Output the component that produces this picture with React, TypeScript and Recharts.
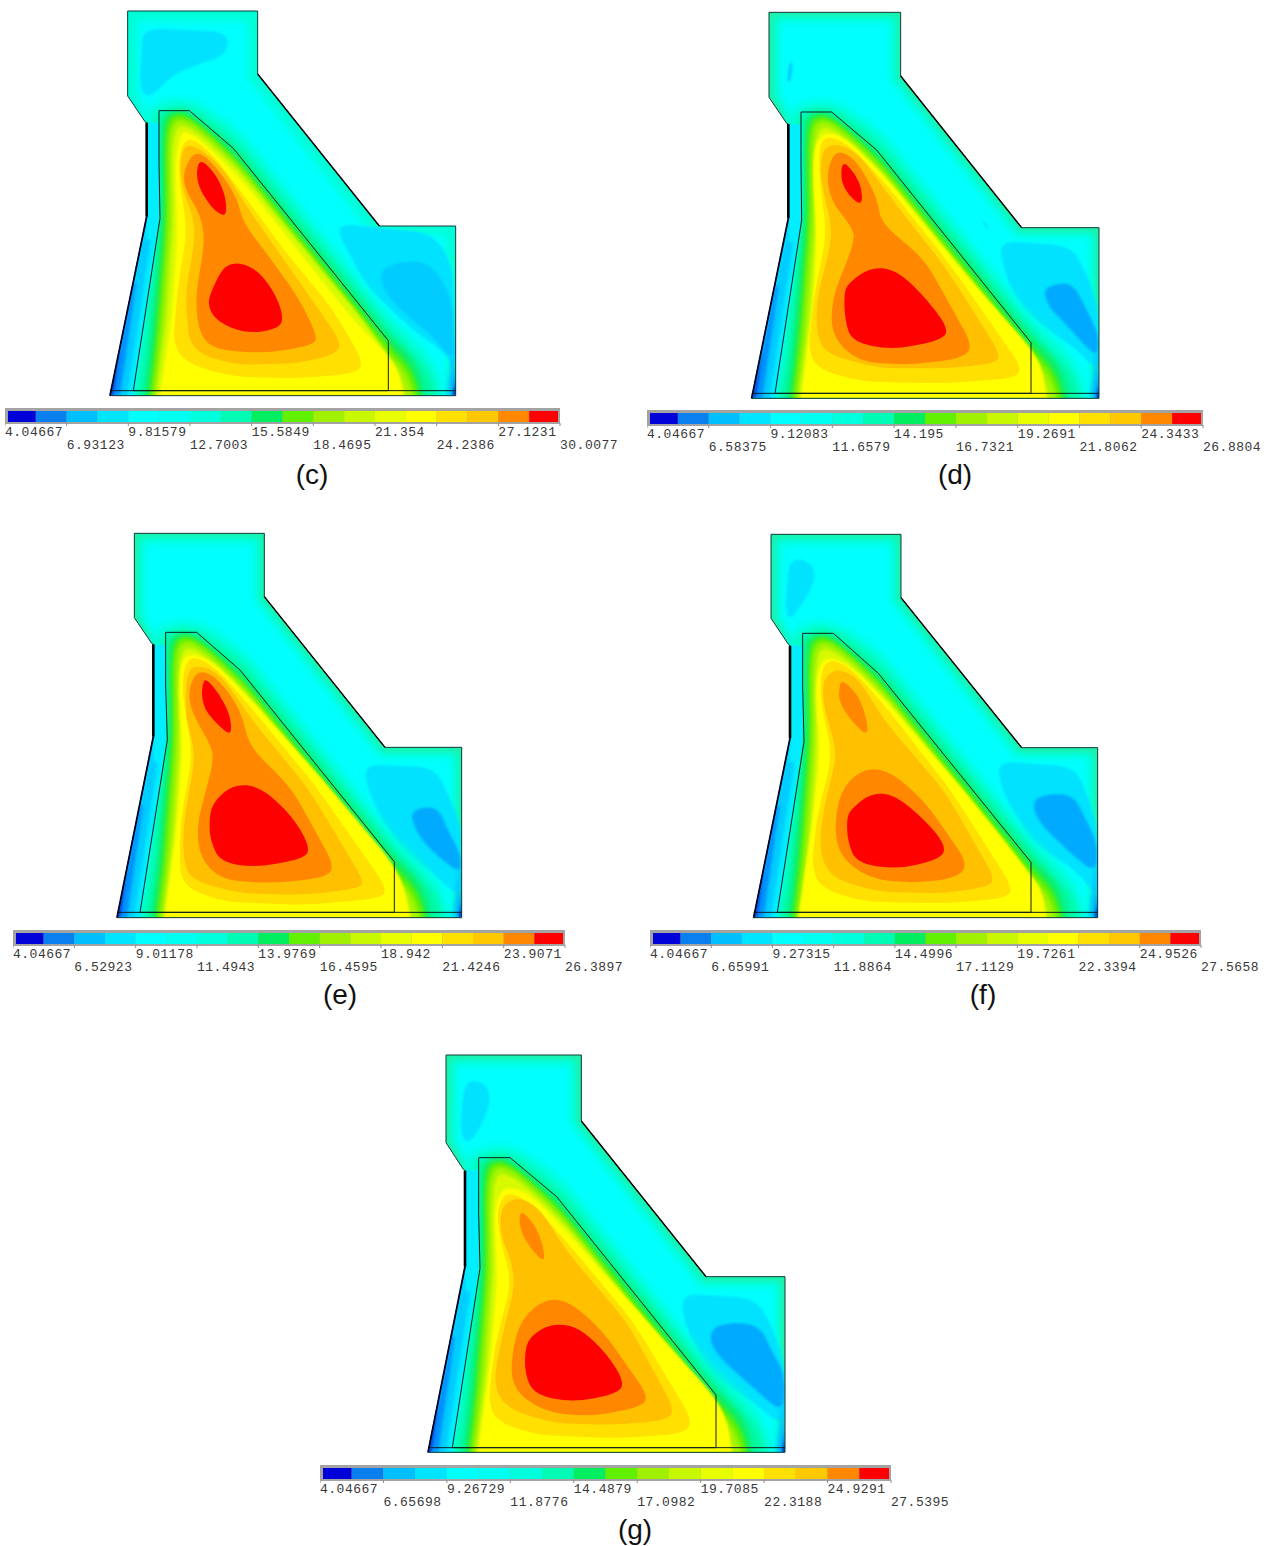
import React from 'react';
import { ScatterChart, Scatter, XAxis, YAxis, BarChart, Bar } from 'recharts';

type Pt = [number, number];

// ---------- colour scale ----------
const bandColors = ['#0000d8','#0a80ee','#00bfff','#00e5ff','#00ffff','#00fff0','#00ffdc','#00fbb4','#00ee60','#60f000','#a0f000','#c8f800','#e8ff00','#ffff00','#ffe000','#ffc800','#ff8800','#ff0000'];

// ---------- colour bar tick values ----------
const ticksC = [4.04667,6.93123,9.81579,12.7003,15.5849,18.4695,21.354,24.2386,27.1231,30.0077];
const ticksD = [4.04667,6.58375,9.12083,11.6579,14.195,16.7321,19.2691,21.8062,24.3433,26.8804];
const ticksE = [4.04667,6.52923,9.01178,11.4943,13.9769,16.4595,18.942,21.4246,23.9071,26.3897];
const ticksF = [4.04667,6.65991,9.27315,11.8864,14.4996,17.1129,19.7261,22.3394,24.9526,27.5658];
const ticksG = [4.04667,6.65698,9.26729,11.8776,14.4879,17.0982,19.7085,22.3188,24.9291,27.5395];

// ---------- shared outer contours, traced on panel (c) ----------
const fringeOuter: Pt[] = [[95,45],[461,45],[461,227],[832,690],[1055,690],[1055,1260],[10,1260],[148,655],[148,362],[95,283]];
const core: Pt[] = [[112,62],[444,62],[444,235],[820,705],[1040,705],[1040,1260],[10,1260],[150,650],[150,365],[112,280]];
const levelA: Pt[] = [[130,375],[150,315],[230,295],[300,310],[420,395],[560,570],[720,770],[860,945],[965,1040],[1015,1120],[1040,1260],[75,1260],[110,1090],[165,660],[165,400]];
const levelB: Pt[] = [[165,345],[230,318],[290,335],[410,425],[860,975],[940,1060],[1000,1130],[1015,1260],[100,1260],[130,1090],[178,660],[178,370]];
const levelC: Pt[] = [[190,345],[240,328],[285,352],[405,450],[862,1005],[950,1085],[988,1260],[125,1260],[148,1090],[185,660],[185,400]];
const levelD: Pt[] = [[205,350],[245,340],[295,370],[405,470],[860,1030],[940,1110],[975,1260],[140,1260],[168,1020],[197,660],[195,420]];
const levelE: Pt[] = [[215,365],[250,355],[305,390],[412,490],[855,1050],[925,1120],[958,1260],[150,1260],[182,1000],[207,660],[205,440]];
const levelF: Pt[] = [[225,385],[255,375],[315,415],[420,515],[790,960],[868,1075],[905,1130],[930,1260],[160,1260],[200,950],[220,660],[215,480]];
const wedgeA: Pt[] = [[140,368],[177,368],[177,655],[100,1187],[30,1187],[140,650]];
const wedgeB: Pt[] = [[138,720],[152,720],[82,1187],[30,1187],[138,655]];
const wedgeC: Pt[] = [[100,850],[108,850],[60,1187],[30,1187]];
const wedgeD: Pt[] = [[62,1040],[40,1187],[30,1187]];
const cornerA: Pt[] = [[1067,1000],[1067,1187],[1040,1187],[1052,1100]];
const cornerB: Pt[] = [[1067,1110],[1067,1187],[1055,1187]];
const cornerC: Pt[] = [[1067,1150],[1067,1187],[1060,1187]];

// ---------- panel (c) ----------
const outlineCc: Pt[] = [[83,33],[473,33],[473,222],[838,678],[1067,678],[1067,1187],[30,1187],[140,650],[140,368],[135,365],[83,288]];
const innerCc: Pt[] = [[177,332],[268,332],[400,445],[865,1022],[865,1172],[100,1172],[180,655],[177,490]];
const yellowC: Pt[] = [[240,400],[265,395],[325,440],[430,545],[760,960],[860,1060],[900,1120],[920,1260],[170,1260],[215,950],[232,700],[225,500]];
const amberC: Pt[] = [[235,470],[262,405],[330,455],[420,570],[560,760],[700,930],[790,1085],[770,1120],[600,1135],[400,1130],[270,1095],[218,1040],[235,850],[262,690],[240,560]];
const goldC: Pt[] = [[240,470],[265,425],[360,490],[440,620],[720,1020],[715,1060],[600,1090],[400,1095],[270,1050],[255,880],[285,720],[280,650],[245,560]];
const orangeC: Pt[][] = [[[288,448],[345,495],[410,590],[430,670],[500,760],[600,900],[652,1010],[640,1035],[500,1060],[350,1050],[300,1010],[285,900],[315,720],[300,640],[255,570],[250,510]]];
const redC: Pt[][] = [[[300,475],[345,520],[372,575],[380,620],[375,650],[340,630],[300,570],[288,520]],[[378,785],[460,797],[520,870],[550,945],[540,985],[440,1002],[350,965],[322,915],[335,870]]];
const paleC: Pt[][] = [[[130,85],[385,95],[380,165],[300,190],[215,225],[150,295],[118,270],[125,150]],[[700,670],[1000,700],[1060,800],[1062,1120],[1040,1060],[950,1000],[800,860]]];
const blueC: Pt[][] = [[[840,810],[900,785],[990,785],[1060,900],[1062,1090],[1000,1010],[900,930],[850,870]]];
const deepC: Pt[][] = [];

// ---------- panel (d) ----------
const outlineD: Pt[] = [[72,37],[467,37],[467,228],[830,683],[1062,683],[1062,1195],[20,1195],[130,655],[130,372],[125,370],[72,292]];
const innerD: Pt[] = [[168,336],[260,336],[395,450],[858,1028],[858,1180],[90,1180],[170,660],[168,490]];
const yellowD: Pt[] = [[215,420],[250,395],[310,420],[420,530],[700,870],[855,1040],[895,1110],[910,1265],[160,1265],[205,900],[215,700],[205,560],[205,470]];
const amberD: Pt[] = [[225,430],[250,405],[320,440],[430,560],[620,800],[835,1110],[800,1135],[600,1150],[350,1145],[225,1110],[190,1060],[205,900],[245,700],[230,590],[222,500]];
const goldD: Pt[] = [[235,445],[275,430],[340,460],[435,590],[600,800],[765,1060],[755,1090],[600,1105],[400,1105],[240,1060],[215,1000],[215,900],[260,720],[255,650],[235,580],[225,500]];
const orangeD: Pt[][] = [[[275,447],[335,480],[400,600],[405,665],[540,780],[685,1040],[650,1075],[500,1095],[340,1085],[260,1010],[260,900],[330,720],[320,680],[255,600],[245,510]]];
const redD: Pt[][] = [[[292,480],[330,520],[352,570],[350,618],[310,585],[287,540]],[[375,802],[450,808],[530,880],[612,985],[590,1020],[440,1050],[320,1025],[300,960],[297,880],[310,850]]];
const paleD: Pt[][] = [[[755,722],[975,738],[1015,800],[1060,915],[1060,1120],[1000,1050],[880,970],[800,880]]];
const blueD: Pt[][] = [[[125,240],[135,180],[145,195],[135,250]],[[710,655],[735,690],[720,680]]];
const deepD: Pt[][] = [[[895,870],[930,852],[985,850],[1025,930],[1060,1000],[1060,1080],[960,970],[910,920]]];

// ---------- panel (e) ----------
const outlineE: Pt[] = [[88,25],[478,25],[478,215],[840,667],[1070,667],[1070,1178],[36,1178],[145,635],[145,358],[140,355],[88,278]];
const innerE: Pt[] = [[182,322],[275,322],[405,435],[868,1010],[868,1162],[105,1162],[187,645],[182,480]];
const yellowE: Pt[] = [[230,400],[265,385],[330,415],[430,515],[650,760],[860,1010],[905,1100],[920,1250],[170,1250],[215,900],[232,680],[225,560],[222,470]];
const amberE: Pt[] = [[238,420],[265,392],[330,425],[440,550],[630,780],[850,1095],[820,1120],[600,1140],[350,1130],[225,1080],[225,900],[262,690],[245,580],[232,500]];
const goldE: Pt[] = [[245,440],[280,420],[345,445],[445,590],[610,790],[778,1070],[760,1090],[600,1110],[400,1105],[260,1065],[235,1010],[235,900],[270,700],[260,640],[240,570]];
const orangeE: Pt[][] = [[[280,432],[340,460],[410,560],[430,660],[560,790],[692,1030],[650,1060],[500,1075],[350,1065],[285,1000],[275,900],[328,700],[312,650],[258,560],[250,490]]];
const redE: Pt[][] = [[[302,458],[345,510],[375,570],[380,622],[365,625],[305,565],[290,520],[292,480]],[[385,777],[465,785],[560,870],[615,965],[600,1000],[450,1028],[345,1010],[318,950],[312,900],[320,835]]];
const paleE: Pt[][] = [[[768,718],[990,727],[1030,810],[1068,900],[1068,1120],[1000,1060],[890,970],[810,850]]];
const blueE: Pt[][] = [];
const deepE: Pt[][] = [[[918,855],[998,842],[1030,920],[1068,990],[1068,1050],[960,960],[925,900]]];

// ---------- panel (f) ----------
const outlineF: Pt[] = [[78,28],[468,28],[468,218],[830,668],[1058,668],[1058,1178],[26,1178],[135,640],[135,362],[130,358],[78,280]];
const innerF: Pt[] = [[173,325],[265,325],[400,445],[858,1012],[858,1162],[97,1162],[177,650],[173,485]];
const yellowF: Pt[] = [[225,415],[255,395],[320,425],[420,525],[650,790],[850,1040],[895,1100],[910,1250],[150,1250],[200,900],[225,680],[215,560],[212,480]];
const amberF: Pt[] = [[232,425],[262,402],[320,430],[430,555],[620,800],[805,1090],[780,1120],[600,1135],[350,1130],[230,1090],[200,1030],[215,880],[262,690],[235,570],[225,490]];
const goldF: Pt[] = [[240,455],[280,430],[340,460],[420,590],[600,800],[750,1060],[730,1085],[600,1105],[400,1100],[260,1060],[222,980],[235,850],[275,700],[262,630],[240,560],[232,500]];
const orangeF: Pt[][] = [[[290,462],[340,510],[365,580],[370,635],[320,590],[282,530],[282,490]],[[365,727],[440,742],[540,830],[672,1020],[630,1060],[500,1075],[370,1060],[280,990],[268,880],[295,780]]];
const redF: Pt[][] = [[[380,803],[450,810],[540,885],[602,960],[590,1000],[460,1033],[335,1015],[308,950],[305,880],[320,850]]];
const paleF: Pt[][] = [[[750,708],[985,725],[1020,790],[1056,900],[1056,1120],[1000,1040],[870,960],[780,820]],[[135,103],[185,105],[210,135],[205,180],[170,240],[135,285],[122,260],[125,180]]];
const blueF: Pt[][] = [];
const deepF: Pt[][] = [[[860,830],[900,808],[985,808],[1020,880],[1056,950],[1056,1050],[960,970],[880,890]]];

// ---------- panel (g) ----------
const outlineG: Pt[] = [[78,30],[484,30],[484,228],[858,695],[1095,695],[1095,1222],[24,1222],[135,665],[135,377],[130,373],[78,293]];
const innerG: Pt[] = [[176,338],[270,338],[410,455],[888,1050],[888,1208],[97,1208],[180,670],[176,505]];
const yellowG: Pt[] = [[240,440],[270,425],[335,450],[440,560],[700,850],[880,1050],[925,1130],[940,1290],[165,1290],[210,950],[232,710],[225,560],[225,490]];
const amberG: Pt[] = [[240,470],[265,440],[330,470],[440,590],[640,830],[820,1130],[790,1165],[600,1180],[350,1170],[230,1130],[205,1070],[225,900],[275,710],[240,580],[232,510]];
const goldG: Pt[] = [[250,480],[295,455],[360,490],[440,620],[620,830],[765,1095],[740,1125],[600,1140],[400,1135],[260,1090],[220,1020],[240,900],[285,720],[275,650],[245,580],[240,520]];
const orangeG: Pt[][] = [[[300,490],[345,540],[370,600],[375,655],[330,610],[298,550]],[[378,760],[450,770],[550,860],[690,1060],[650,1090],[500,1115],[370,1100],[275,1030],[275,920],[305,820]]];
const redG: Pt[][] = [[[395,835],[475,845],[560,925],[613,1010],[595,1045],[460,1072],[345,1050],[315,990],[315,910],[335,870]]];
const paleG: Pt[][] = [[[778,745],[1005,760],[1050,830],[1093,950],[1093,1150],[1000,1070],[880,1000],[800,860]],[[135,108],[190,110],[212,150],[200,210],[150,300],[122,270],[125,190]]];
const blueG: Pt[][] = [];
const deepG: Pt[][] = [[[865,870],[900,835],[1018,835],[1060,930],[1093,980],[1093,1110],[990,1020],[890,930]]];

type Panel = {
  id: string; caption: string; capX: number; capY: number;
  left: number; top: number; w: number; h: number;
  map: [number, number, number, number];
  edge: string;
  outline: Pt[]; inner: Pt[]; yellow: Pt[]; amber: Pt[]; gold: Pt[];
  orange: Pt[][]; red: Pt[][]; pale: Pt[][]; blue: Pt[][]; deep: Pt[][];
  ticks: number[]; barX: number; barW: number; barY: number;
};

const panels: Panel[] = [
  { id:'c', caption:'(c)', capX:312, capY:475, left:100, top:0, w:370, h:405, map:[1,0,1,0], edge:'#00ffd8', outline:outlineCc, inner:innerCc, yellow:yellowC, amber:amberC, gold:goldC, orange:orangeC, red:redC, pale:paleC, blue:blueC, deep:deepC, ticks:ticksC, barX:5, barW:555, barY:408 },
  { id:'d', caption:'(d)', capX:955, capY:475, left:745, top:0, w:370, h:405, map:[1.003,-8,1.0035,3.9], edge:'#20f0a8', outline:outlineD, inner:innerD, yellow:yellowD, amber:amberD, gold:goldD, orange:orangeD, red:redD, pale:paleD, blue:blueD, deep:deepD, ticks:ticksD, barX:647, barW:556, barY:410 },
  { id:'e', caption:'(e)', capX:340, capY:995, left:105, top:525, w:370, h:400, map:[0.997,6.1,0.999,-8], edge:'#20f0a8', outline:outlineE, inner:innerE, yellow:yellowE, amber:amberE, gold:goldE, orange:orangeE, red:redE, pale:paleE, blue:blueE, deep:deepE, ticks:ticksE, barX:13, barW:552, barY:930 },
  { id:'f', caption:'(f)', capX:983, capY:995, left:745, top:525, w:370, h:400, map:[0.995,-3.85,0.9965,-4.9], edge:'#20f0a8', outline:outlineF, inner:innerF, yellow:yellowF, amber:amberF, gold:goldF, orange:orangeF, red:redF, pale:paleF, blue:blueF, deep:deepF, ticks:ticksF, barX:650, barW:551, barY:930 },
  { id:'g', caption:'(g)', capX:635, capY:1530, left:420, top:1045, w:380, h:415, map:[1.033,-7,1.033,-4.1], edge:'#20f0a8', outline:outlineG, inner:innerG, yellow:yellowG, amber:amberG, gold:goldG, orange:orangeG, red:redG, pale:paleG, blue:blueG, deep:deepG, ticks:ticksG, barX:320, barW:571, barY:1465 },
];

const toData = (a: Pt[]) => a.map(([x, y]) => ({ x, y }));
const Empty = () => <g />;
const CORNER = 20;

function smoothPath(p: { x: number; y: number }[]) {
  const n = p.length;
  let d = '';
  for (let i = 0; i < n; i++) {
    const c = p[i], a = p[(i + n - 1) % n], b = p[(i + 1) % n];
    const la = Math.hypot(a.x - c.x, a.y - c.y) || 1;
    const lb = Math.hypot(b.x - c.x, b.y - c.y) || 1;
    const ta = Math.min(0.5, CORNER / la), tb = Math.min(0.5, CORNER / lb);
    const sx = c.x + (a.x - c.x) * ta, sy = c.y + (a.y - c.y) * ta;
    const ex = c.x + (b.x - c.x) * tb, ey = c.y + (b.y - c.y) * tb;
    d += `${i === 0 ? 'M' : 'L'}${sx},${sy}Q${c.x},${c.y} ${ex},${ey}`;
  }
  return d + 'Z';
}
function straightPath(p: { x: number; y: number }[], closed: boolean) {
  return 'M' + p.map(q => `${q.x},${q.y}`).join('L') + (closed ? 'Z' : '');
}

type ShapeOpts = { fill?: string; stroke?: string; sw?: number; smooth?: boolean; closed?: boolean; blur?: number; clip?: string; defineClip?: string };
function shape(key: string, pts: Pt[], o: ShapeOpts) {
  const closed = o.closed !== false;
  return (
    <Scatter
      key={key}
      data={toData(pts)}
      isAnimationActive={false}
      shape={Empty}
      lineType="joint"
      line={(lp: any) => {
        const d = o.smooth ? smoothPath(lp.points) : straightPath(lp.points, closed);
        return (
          <g clipPath={o.clip ? `url(#${o.clip})` : undefined}>
            {o.defineClip ? <defs><clipPath id={o.defineClip}><path d={d} /></clipPath></defs> : null}
            <path
              d={d}
              fill={o.fill ?? 'none'}
              stroke={o.stroke ?? 'none'}
              strokeWidth={o.sw ?? 0}
              strokeLinejoin="round"
              style={o.blur ? { filter: `blur(${o.blur}px)` } : undefined}
            />
          </g>
        );
      }}
    />
  );
}

function DamPlot({ p }: { p: Panel }) {
  const m = (a: Pt[]): Pt[] => a.map(([x, y]) => [x * p.map[0] + p.map[1], y * p.map[2] + p.map[3]]);
  const o = p.outline;
  const i = p.inner;
  const baseY = i[4][1];
  const clip = 'dam-' + p.id;
  const layers: React.ReactNode[] = [
    shape('base', o, { fill: p.edge, defineClip: clip }),
    shape('fringe', m(fringeOuter), { fill: '#00ffd4', blur: 3, clip }),
    shape('core', m(core), { fill: '#00ffff', blur: 4, clip }),
    ...p.pale.map((a, k) => shape('pale' + k, a, { fill: '#00e2ff', smooth: true, blur: 1, clip })),
    ...p.blue.map((a, k) => shape('blue' + k, a, { fill: '#00ccff', smooth: true, blur: 1, clip })),
    ...p.deep.map((a, k) => shape('deep' + k, a, { fill: '#00aaff', smooth: true, blur: 1, clip })),
    shape('a', m(levelA), { fill: '#00ffd0', smooth: true, blur: 5, clip }),
    shape('b', m(levelB), { fill: '#00f8a0', smooth: true, blur: 3.5, clip }),
    shape('c', m(levelC), { fill: '#10ee60', smooth: true, blur: 2.5, clip }),
    shape('d', m(levelD), { fill: '#60f000', smooth: true, blur: 2, clip }),
    shape('e', m(levelE), { fill: '#a8f400', smooth: true, blur: 2, clip }),
    shape('f', m(levelF), { fill: '#d8fa00', smooth: true, blur: 1.5, clip }),
    shape('yellow', p.yellow, { fill: '#ffff00', smooth: true, blur: 1.2, clip }),
    shape('amber', p.amber, { fill: '#ffe000', smooth: true, blur: 0.5, clip }),
    shape('gold', p.gold, { fill: '#ffc000', smooth: true, blur: 0.5, clip }),
    ...p.orange.map((a, k) => shape('orange' + k, a, { fill: '#ff8800', smooth: true, blur: 0.4, clip })),
    ...p.red.map((a, k) => shape('red' + k, a, { fill: '#ff0000', smooth: true, blur: 0.4, clip })),
    shape('wa', m(wedgeA), { fill: '#00eeff' }),
    shape('wb', m(wedgeB), { fill: '#00ccff', blur: 1.5, clip }),
    shape('wc', m(wedgeC), { fill: '#0090ff', blur: 1.5, clip }),
    shape('wd', m(wedgeD), { fill: '#0040e0', blur: 1, clip }),
    shape('ca', m(cornerA), { fill: '#00c0ff', blur: 2, clip }),
    shape('cb', m(cornerB), { fill: '#0080f0', blur: 1.5, clip }),
    shape('cc', m(cornerC), { fill: '#0000c0', blur: 1, clip }),
    shape('outline', o, { stroke: '#103838', sw: 1 }),
    shape('inner', i, { stroke: '#102020', sw: 1 }),
    shape('baseLine', [[o[6][0], baseY], [o[5][0], baseY]], { stroke: '#102020', sw: 1, closed: false }),
    shape('leftThick', [o[8], o[7]], { stroke: '#000000', sw: 2.6, closed: false }),
    shape('leftLow', [o[7], o[6]], { stroke: '#000020', sw: 1.8, closed: false }),
    shape('rightThick', [o[2], o[3]], { stroke: '#000000', sw: 1.4, closed: false }),
  ];
  return (
    <div style={{ position: 'absolute', left: p.left, top: p.top }}>
      <ScatterChart width={p.w} height={p.h} margin={{ top: 0, right: 0, bottom: 0, left: 0 }}>
        <XAxis type="number" dataKey="x" domain={[0, p.w * 3]} hide allowDataOverflow />
        <YAxis type="number" dataKey="y" domain={[0, p.h * 3]} reversed hide allowDataOverflow />
        {layers}
      </ScatterChart>
    </div>
  );
}

function ColorBar({ p }: { p: Panel }) {
  const first = p.ticks[0];
  const last = p.ticks[p.ticks.length - 1];
  const step = (last - first) / bandColors.length;
  const row: Record<string, any> = { name: 'scale', offset: first };
  bandColors.forEach((_, k) => { row['b' + k] = step; });
  const Tick = (t: any) => (
    <g>
      <line x1={t.x} x2={t.x} y1={t.y - 7} y2={t.y - 4} stroke="#8a8a8a" />
      <text x={t.x} y={t.index % 2 === 0 ? t.y + 6 : t.y + 19} textAnchor="start" fontFamily="'Liberation Mono', monospace" fontSize={13} letterSpacing={0.5} fill="#383838">
        {String(t.payload.value)}
      </text>
    </g>
  );
  return (
    <>
      <div style={{ position: 'absolute', left: p.barX, top: p.barY, width: p.barW, height: 16, background: '#a3a3a3' }} />
      <div style={{ position: 'absolute', left: p.barX, top: p.barY }}>
        <BarChart width={p.barW + 72} height={56} layout="vertical" data={[row]} barCategoryGap={0} margin={{ top: 3, right: 72, bottom: 0, left: 0 }} style={{ overflow: 'visible' }}>
          <XAxis type="number" domain={[first, last]} ticks={p.ticks} interval={0} height={42} axisLine={false} tickLine={false} tick={Tick} allowDataOverflow />
          <YAxis type="category" dataKey="name" hide />
          <Bar dataKey="offset" stackId="s" fill="none" isAnimationActive={false} />
          {bandColors.map((c, k) => (
            <Bar key={k} dataKey={'b' + k} stackId="s" fill={c} isAnimationActive={false} />
          ))}
        </BarChart>
      </div>
      <div style={{ position: 'absolute', left: p.barX, top: p.barY, width: 3, height: 16, background: '#a3a3a3' }} />
      <div style={{ position: 'absolute', left: p.barX + p.barW - 2, top: p.barY, width: 2, height: 16, background: '#a3a3a3' }} />
    </>
  );
}

export default function App() {
  return (
    <div style={{ position: 'absolute', left: 0, top: 0, width: 1270, height: 1546, background: '#fff', overflow: 'hidden' }}>
      {panels.map(p => (
        <React.Fragment key={p.caption}>
          <DamPlot p={p} />
          <ColorBar p={p} />
          <div style={{ position: 'absolute', left: p.capX - 40, width: 80, top: p.capY - 17, height: 34, lineHeight: '34px', textAlign: 'center', fontFamily: "'Liberation Sans', Arial, sans-serif", fontSize: 28, color: '#111' }}>
            {p.caption}
          </div>
        </React.Fragment>
      ))}
    </div>
  );
}
